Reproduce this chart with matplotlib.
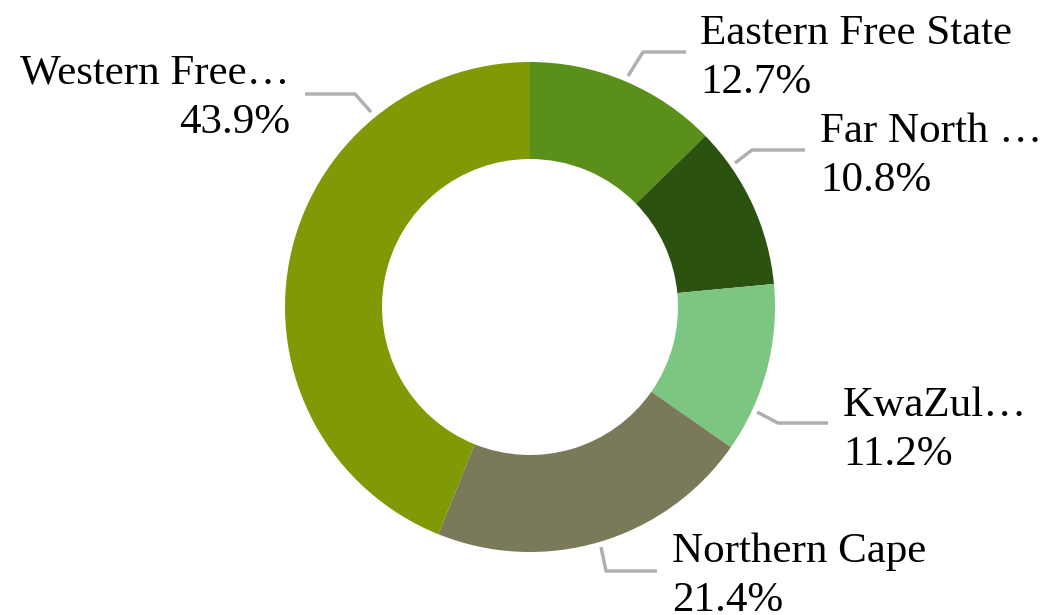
import matplotlib
matplotlib.use('Agg')
import matplotlib.pyplot as plt

# chart data
labels = ['Eastern Free State', 'Far North \u2026', 'KwaZul\u2026', 'Northern Cape', 'Western Free\u2026']
shares = [12.7, 10.8, 11.2, 21.4, 43.9]
colors = ['#5a8f1a', '#2b520e', '#7cc682', '#7a7a5a', '#7f9a05']

plt.rcParams['font.family'] = ['Liberation Serif', 'DejaVu Serif']

W, H = 1046, 615
fig = plt.figure(figsize=(W / 100, H / 100), dpi=100)
ax = fig.add_axes([0, 0, 1, 1])

cx, cy, r_out = 530, 307, 245
# y axis is flipped, so counterclock=True with startangle=-90 draws clockwise from the top
ax.pie(shares, colors=colors, startangle=-90, counterclock=True,
       center=(cx, cy), radius=r_out, frame=True,
       wedgeprops=dict(width=97, linewidth=0))
ax.set_xlim(0, W)
ax.set_ylim(H, 0)
ax.set_aspect('equal')
ax.axis('off')

# leader lines and label positions (pixels)
leaders = [
    [(628, 76), (643, 52), (686, 52)],
    [(735, 163), (752, 150), (805, 150)],
    [(757, 412), (778, 423), (828, 423)],
    [(601, 547), (606, 571), (657, 571)],
    [(371, 112), (355, 94), (305, 94)],
]
text_pos = [(700, 58, 'left'), (820, 156, 'left'), (843, 430, 'left'),
            (672, 576, 'left'), (290, 98, 'right')]

for lab, val, pts, (tx, ty, ha) in zip(labels, shares, leaders, text_pos):
    xs, ys = zip(*pts)
    ax.plot(xs, ys, color='#b0b0b0', lw=2.5, solid_capstyle='butt')
    ax.text(tx, ty, f'{lab}\n{val:.1f}%', ha=ha, va='center', fontsize=31,
            color='black', linespacing=1.36, multialignment=ha)

fig.savefig('out.png', dpi=100)
